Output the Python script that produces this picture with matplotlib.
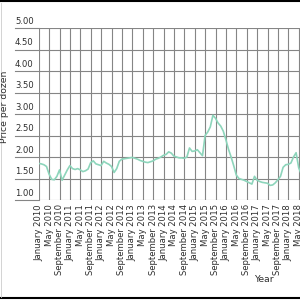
import matplotlib
matplotlib.use("Agg")
import matplotlib.pyplot as plt
import matplotlib.transforms as mtransforms
from matplotlib.lines import Line2D

# monthly price per dozen, January 2010 onwards
prices = [
    1.85, 1.84, 1.82, 1.78, 1.60, 1.48, 1.47, 1.55, 1.70, 1.46, 1.58, 1.70,  # 2010
    1.80, 1.73, 1.71, 1.73, 1.70, 1.66, 1.68, 1.72, 1.87, 1.91, 1.84, 1.82,  # 2011
    1.80, 1.90, 1.86, 1.83, 1.78, 1.64, 1.73, 1.90, 1.95, 1.96, 1.97, 1.98,  # 2012
    1.99, 1.97, 1.95, 1.92, 1.90, 1.88, 1.87, 1.89, 1.91, 1.95, 1.97, 2.00,  # 2013
    2.04, 2.06, 2.12, 2.09, 2.02, 2.00, 1.98, 1.98, 1.97, 2.00, 2.21, 2.13,  # 2014
    2.14, 2.17, 2.10, 2.03, 2.50, 2.58, 2.70, 2.97, 2.90, 2.79, 2.72, 2.60,  # 2015
    2.40, 2.18, 2.00, 1.80, 1.58, 1.50, 1.48, 1.46, 1.43, 1.40, 1.37, 1.55,  # 2016
    1.46, 1.43, 1.41, 1.40, 1.39, 1.34, 1.35, 1.40, 1.47, 1.55, 1.76, 1.82,  # 2017
    1.83, 1.86, 2.00, 2.10, 1.75, 1.60,                                      # 2018
]
months = list(range(len(prices)))

tick_labels = []
for yr in range(2010, 2019):
    for mon in ["January", "May", "September"]:
        tick_labels.append(f"{mon} {yr}")
tick_labels = tick_labels[:26]
tick_pos = list(range(0, 4 * len(tick_labels), 4))

y_ticks = [1.0, 1.5, 2.0, 2.5, 3.0, 3.5, 4.0, 4.5, 5.0]

line_color = "#8dd5bb"
grid_color = "#858585"
text_color = "#2e2e2e"
fs = 6.1

fig = plt.figure(figsize=(3, 3), dpi=100)
ax = fig.add_axes([38.7 / 300, 1 - 200 / 300, (300 - 38.7) / 300, 172 / 300])

ax.plot(months, prices, color=line_color, lw=1.2, zorder=3)

ax.set_xlim(0, 100.5)
ax.set_ylim(1, 5)
ax.set_xticks(tick_pos)
ax.set_xticklabels(tick_labels, rotation=90, fontsize=fs, color=text_color)
ax.set_yticks(y_ticks)
ax.set_yticklabels([])
ax.tick_params(length=0, pad=3)
ax.grid(True, color=grid_color, lw=0.8)
ax.set_axisbelow(True)
for s in ax.spines.values():
    s.set_visible(False)

# y labels sit on top of the gridlines, which run out to the left
trans = mtransforms.blended_transform_factory(ax.transAxes, ax.transData)
x0 = (15 - 38.7) / 261.3
for v in y_ticks:
    ax.plot([x0, 0], [v, v], transform=trans, color=grid_color, lw=0.8, clip_on=False)
    ax.text(x0, v + 0.05, f"{v:.2f}", transform=trans, ha="left", va="bottom",
            fontsize=fs, color=text_color)

fig.text(5 / 300, 1 - 107 / 300, "Price per dozen", rotation=90, ha="center",
         va="center", fontsize=fs + 0.6, color=text_color)
fig.text(264 / 300, 1 - 280 / 300, "Year", ha="center", va="center",
         fontsize=fs + 0.6, color=text_color)

# black frame lines at top and bottom of the image
fig.add_artist(Line2D([0, 1], [0.998, 0.998], color="black", lw=1.5))
fig.add_artist(Line2D([0, 1], [0.008, 0.008], color="black", lw=1.5))
fig.add_artist(Line2D([0.003, 0.003], [0.01, 0.99], color="#cccccc", lw=0.6))

fig.savefig("out.png", dpi=100)
